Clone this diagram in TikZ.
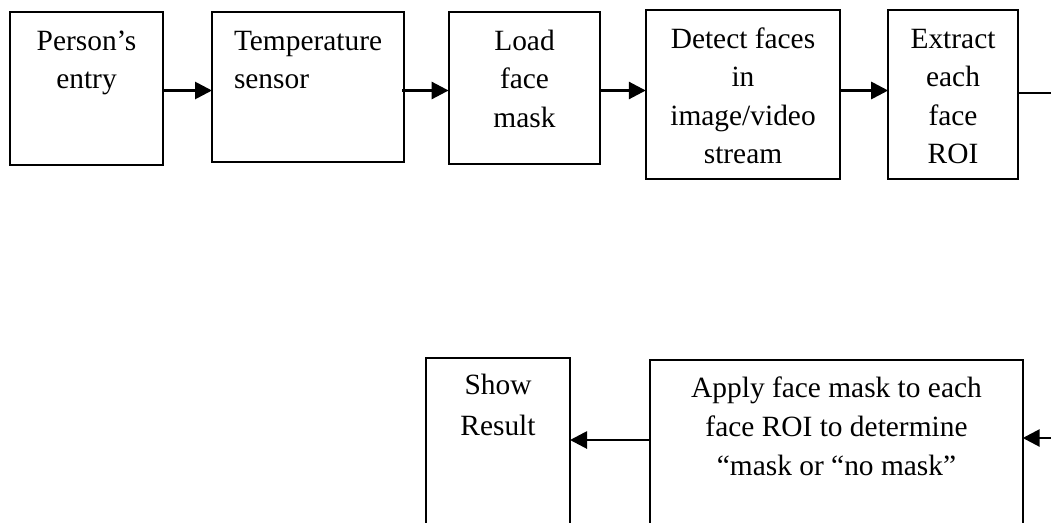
\documentclass[tikz,border=0pt]{standalone}
\usepackage{fontspec}
\setmainfont{Liberation Serif}
\usetikzlibrary{arrows.meta}

\tikzset{
  blk/.style={draw, line width=2pt, inner sep=0pt, outer sep=0pt, anchor=north west},
  lbl/.style={inner sep=0pt, outer sep=0pt, anchor=base},
  arr/.style={line width=2.8pt, -{Triangle[length=17pt,width=17pt]}},
  stub/.style={line width=2pt}
}
% multi-line label, first baseline is the node baseline
\newcommand{\flowtext}[3][38.5pt]{\parbox[t]{#2}{\fontsize{29.4pt}{#1}\selectfont\centering #3}}
\newcommand{\flowtextl}[3][38.5pt]{\parbox[t]{#2}{\fontsize{29.4pt}{#1}\selectfont\raggedright #3}}

\begin{document}
\begin{tikzpicture}[x=1pt, y=-1pt]
  \useasboundingbox (0,0) rectangle (1051,522);
  \clip (0,0) rectangle (1051,522);

  % upper row of steps
  \node[blk, minimum width=153.5pt, minimum height=152.7pt] (b1) at (9.5,12.3) {};
  \node[blk, minimum width=191.5pt, minimum height=149.5pt] (b2) at (212,12.3) {};
  \node[blk, minimum width=151.5pt, minimum height=151.7pt] (b3) at (448.6,12.3) {};
  \node[blk, minimum width=194pt,   minimum height=168.5pt] (b4) at (645.8,10) {};
  \node[blk, minimum width=129.6pt, minimum height=168.5pt] (b5) at (888.2,10) {};

  % lower row of steps (running past the bottom edge)
  \node[blk, minimum width=144pt,   minimum height=220pt] (show)  at (426,357.5) {};
  \node[blk, minimum width=372.7pt, minimum height=220pt] (apply) at (650,359.5) {};

  % labels
  \node[lbl] (t1) at (86.5,50) {\flowtext{150pt}{Person’s\\entry}};
  \node[lbl, anchor=base west] (t2) at (234,50) {\flowtextl{170pt}{Temperature\\sensor}};
  \node[lbl] (t3) at (524.5,50) {\flowtext{150pt}{Load\\face\\mask}};
  \node[lbl] (t4) at (743,48) {\flowtext{190pt}{Detect faces\\in\\image/video\\stream}};
  \node[lbl] (t5) at (953,48) {\flowtext{128pt}{Extract\\each\\face\\ROI}};
  \node[lbl] (t6) at (498,394) {\flowtext[41pt]{140pt}{Show\\Result}};
  \node[lbl] (t7) at (836.5,397) {\flowtext[39pt]{370pt}{Apply face mask to each\\face ROI to determine\\“mask or “no mask”}};

  % connector rows
  \coordinate (toprow) at (0,90.5);
  \coordinate (outR) at (1051,93);
  \coordinate (inR) at (1051,438);
  \coordinate (lowrow) at (0,440);

  \draw[arr] (b1.east |- toprow) -- (b2.west |- toprow);
  \draw[arr] ([xshift=-1.5pt]b2.east |- toprow) -- (b3.west |- toprow);
  \draw[arr] (b3.east |- toprow) -- (b4.west |- toprow);
  \draw[arr] (b4.east |- toprow) -- (b5.west |- toprow);
  \draw[stub] (b5.east |- outR) -- (outR);

  \draw[arr] (inR) -- (apply.east |- inR);
  \draw[arr] (apply.west |- lowrow) -- (show.east |- lowrow);
\end{tikzpicture}
\end{document}
